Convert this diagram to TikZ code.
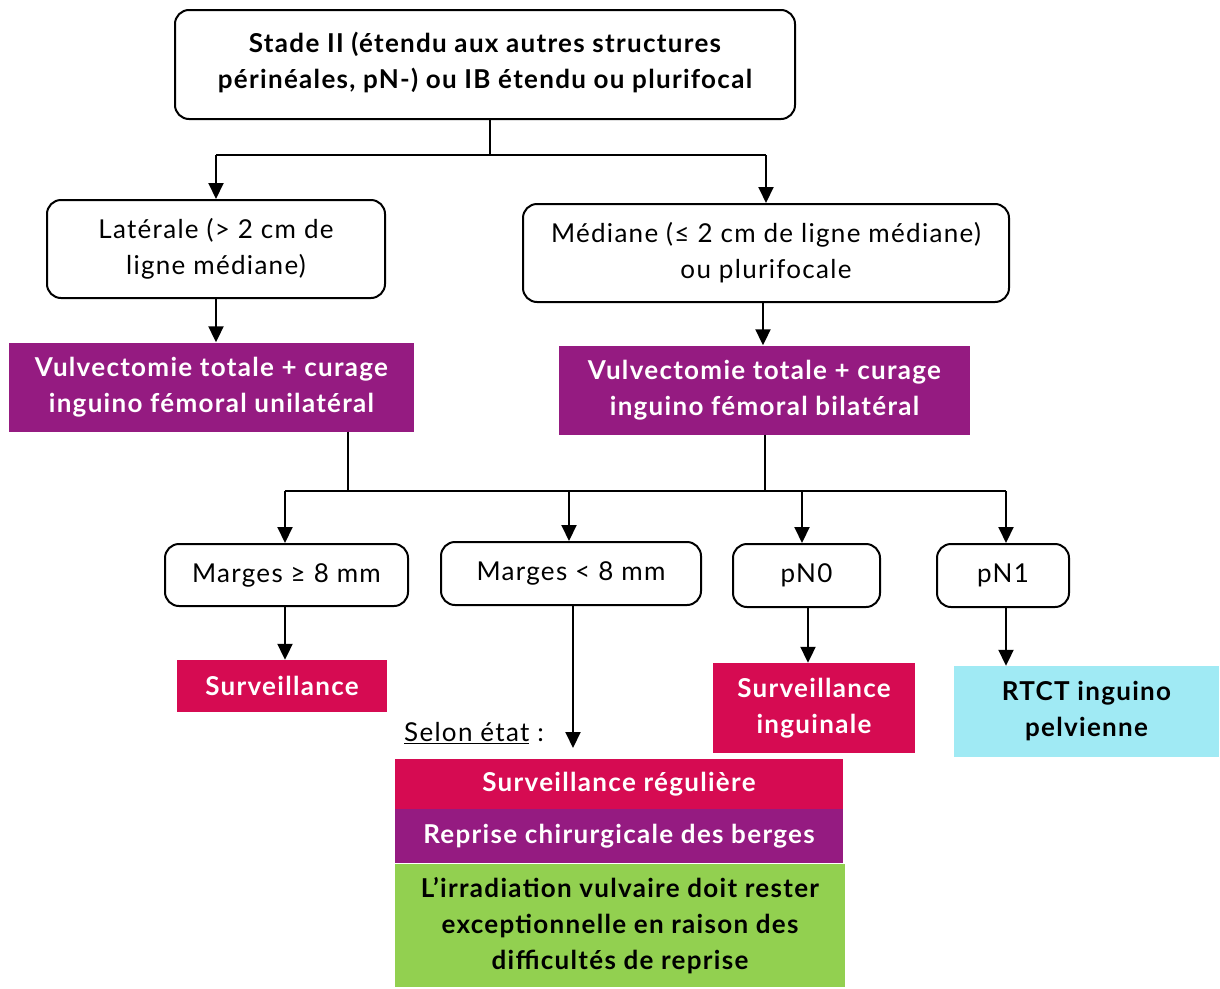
\documentclass[tikz,border=0pt]{standalone}
\usepackage{fontspec}
\setmainfont{Lato}[LetterSpace=5]
\usetikzlibrary{arrows.meta,calc}
\definecolor{plum}{HTML}{951B81}
\definecolor{crimson}{HTML}{D60B52}
\definecolor{leaf}{HTML}{92D050}
\definecolor{sky}{HTML}{A0EAF4}
\tikzset{
  x=1pt, y=-1pt,
  every node/.style={inner sep=0pt, align=center},
  reg/.style={font=\fontsize{26}{36}\selectfont},
  bld/.style={font=\bfseries\fontsize{26}{36}\selectfont},
  rbox/.style={draw=black, line width=2pt, rounded corners=14pt, fill=white, reg},
  plumbox/.style={fill=plum, text=white, bld},
  redbox/.style={fill=crimson, text=white, bld},
  greenbox/.style={fill=leaf, text=black, bld},
  skybox/.style={fill=sky, text=black, bld},
  link/.style={line width=2pt},
  arr/.style={line width=2pt, -{Triangle[width=15pt,length=16pt]}},
}
\begin{document}
\begin{tikzpicture}
\useasboundingbox (0,0) rectangle (1220,988);

% first level
\node[rbox, minimum width=620pt, minimum height=109pt, bld]
  (top) at (485,64.5) {\raisebox{8pt}{\shortstack{Stade II (étendu aux autres structures\\[9pt]périnéales, pN-) ou IB étendu ou plurifocal}}};

% location of the lesion
\node[rbox, minimum width=338pt, minimum height=98pt] (lat) at (216,249) {Latérale (> 2 cm de\\ligne médiane)};
\node[rbox, minimum width=486pt, minimum height=98pt] (med) at (766,253) {Médiane (≤ 2 cm de ligne médiane)\\ou plurifocale};

% surgery
\node[plumbox, minimum width=405pt, minimum height=89pt] (p1) at (211.5,387) {Vulvectomie totale + curage\\inguino fémoral unilatéral};
\node[plumbox, minimum width=411pt, minimum height=89pt] (p2) at (764.5,390) {Vulvectomie totale + curage\\inguino fémoral bilatéral};

% results
\node[rbox, minimum width=243pt, minimum height=62pt] (mge) at (286.5,575) {Marges ≥ 8 mm};
\node[rbox, minimum width=260pt, minimum height=63pt] (mlt) at (571,573.5) {Marges < 8 mm};
\node[rbox, minimum width=147pt, minimum height=63pt] (n0) at (806.5,575.5) {pN0};
\node[rbox, minimum width=132pt, minimum height=63pt] (n1) at (1003,575.5) {pN1};

% follow-up
\node[redbox, minimum width=210pt, minimum height=52pt] (surv) at (282,686) {Surveillance};
\node[redbox, minimum width=202pt, minimum height=90pt] (sing) at (814,708) {Surveillance\\inguinale};
\node[skybox, minimum width=265pt, minimum height=91pt] (rtct) at (1086.5,711.5) {RTCT inguino\\pelvienne};

\node[reg, anchor=center] (selon) at (474,733) {\underline{Selon état} :};
\node[redbox, minimum width=448pt, minimum height=50pt] (sreg) at (619,784) {Surveillance régulière};
\node[plumbox, minimum width=448pt, minimum height=54pt] (repr) at (619,836) {Reprise chirurgicale des berges};
\node[greenbox, minimum width=450pt, minimum height=123pt] (irr) at (620,925.5) {L’irradiation vulvaire doit rester\\exceptionnelle en raison des\\difficultés de reprise};

% connectors
\coordinate (fork) at (490,155);
\coordinate (bus) at (348,491);
\coordinate (selend) at (573,748);

\draw[link] (top.south -| fork) -- (fork);
\draw[link] (lat.north |- fork) -- (med.north |- fork);
\draw[arr] (lat.north |- fork) -- (lat.north);
\draw[arr] (med.north |- fork) -- (med.north);

\draw[arr] (lat.south) -- (p1.north -| lat.south);
\draw[arr] (med.south -| 763,0) -- (p2.north -| 763,0);

\draw[link] (p1.south -| bus) -- (bus);
\draw[link] (p2.south) -- (p2.south |- bus);
\draw[link] (285,491) -- (1006,491);
\draw[arr] (285,491) -- (mge.north -| 285,0);
\draw[arr] (569,491) -- (mlt.north -| 569,0);
\draw[arr] (802,491) -- (n0.north -| 802,0);
\draw[arr] (1006,491) -- (n1.north -| 1006,0);

\draw[arr] (mge.south -| 285,0) -- (surv.north -| 285,0);
\draw[arr] (mlt.south -| selend) -- (selend);
\draw[arr] (n0.south -| 808,0) -- (sing.north -| 808,0);
\draw[arr] (n1.south -| 1006,0) -- (rtct.north -| 1006,0);
\end{tikzpicture}
\end{document}
